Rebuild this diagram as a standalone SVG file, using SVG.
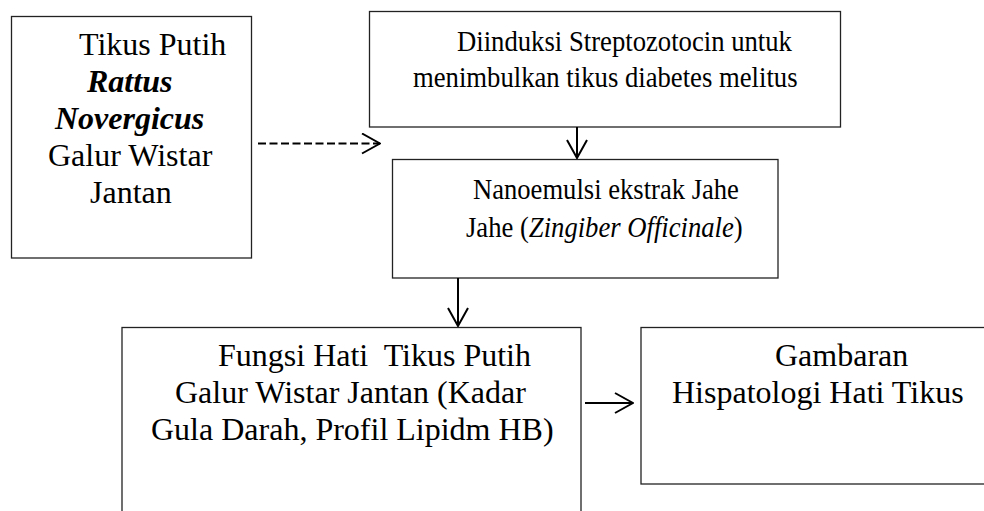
<svg xmlns="http://www.w3.org/2000/svg" width="984" height="511" viewBox="0 0 984 511">
<style>
.box{fill:#fff;stroke:#222;stroke-width:1.3}
.t{font-family:'Liberation Serif','Times New Roman',serif;font-size:32px;fill:#000}
.s{font-family:'Liberation Serif','Times New Roman',serif;font-size:30px;fill:#000}
.bi{font-weight:bold;font-style:italic}
.i{font-style:italic}
.c{fill:none;stroke:#000;stroke-width:2}
</style>
<defs>
<marker id="ah" viewBox="0 0 20 22" refX="19" refY="11" markerWidth="20" markerHeight="22" markerUnits="userSpaceOnUse" orient="auto">
<path d="M1,1 L19,11 L1,21" fill="none" stroke="#000" stroke-width="2"/>
</marker>
</defs>
<rect width="984" height="511" fill="#fff"/>
<g id="node-tikus">
<rect class="box" x="11.5" y="16.5" width="240" height="241.5"/>
<text class="t" x="79" y="55">Tikus Putih</text>
<text class="t bi" x="87" y="92">Rattus</text>
<text class="t bi" x="55" y="129">Novergicus</text>
<text class="t" x="48" y="166">Galur Wistar</text>
<text class="t" x="90" y="203">Jantan</text>
</g>
<g id="node-diinduksi">
<rect class="box" x="369.5" y="11.5" width="471" height="115.5"/>
<text class="s" transform="translate(457,51) scale(0.89,1)">Diinduksi Streptozotocin untuk</text>
<text class="s" transform="translate(413,87) scale(0.89,1)">menimbulkan tikus diabetes melitus</text>
</g>
<g id="node-nanoemulsi">
<rect class="box" x="392.5" y="159.5" width="385.5" height="118.5"/>
<text class="s" transform="translate(473,199) scale(0.887,1)">Nanoemulsi ekstrak Jahe</text>
<text class="s" transform="translate(466,237) scale(0.888,1)">Jahe (<tspan class="i">Zingiber Officinale</tspan>)</text>
</g>
<g id="node-fungsi">
<rect class="box" x="122" y="327.5" width="459" height="200"/>
<text class="t" x="218" y="366" xml:space="preserve">Fungsi Hati  Tikus Putih</text>
<text class="t" x="175" y="403">Galur Wistar Jantan (Kadar</text>
<text class="t" x="151" y="440">Gula Darah, Profil Lipidm HB)</text>
</g>
<g id="node-gambaran">
<rect class="box" x="641" y="327.5" width="360" height="156.5"/>
<text class="t" x="775" y="366">Gambaran</text>
<text class="t" x="672" y="403">Hispatologi Hati Tikus</text>
</g>
<g id="connectors">
<line class="c" x1="258" y1="143.5" x2="380" y2="143.5" stroke-dasharray="8,3.5" marker-end="url(#ah)"/>
<line class="c" x1="577" y1="127" x2="577" y2="158" marker-end="url(#ah)"/>
<line class="c" x1="458" y1="278" x2="458" y2="326" marker-end="url(#ah)"/>
<line class="c" x1="585" y1="403" x2="633" y2="403" marker-end="url(#ah)"/>
</g>
</svg>
